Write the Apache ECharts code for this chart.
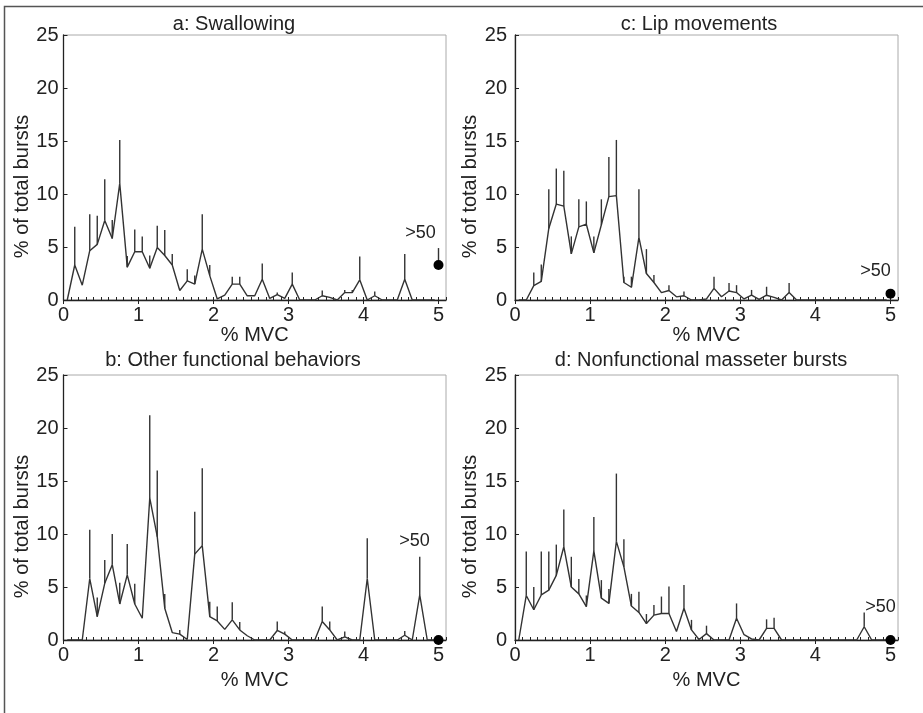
<!DOCTYPE html>
<html><head><meta charset="utf-8">
<script src="https://cdn.jsdelivr.net/npm/echarts@6/dist/echarts.min.js"></script>
<style>html,body{margin:0;padding:0;background:#fff}#c{width:923px;height:713px}</style>
</head><body><div id="c"></div>
<script>
// Bin centres (% MVC), 0.1 % wide bins
const binCenters = [0.05,0.15,0.25,0.35,0.45,0.55,0.65,0.75,0.85,0.95,
  1.05,1.15,1.25,1.35,1.45,1.55,1.65,1.75,1.85,1.95,
  2.05,2.15,2.25,2.35,2.45,2.55,2.65,2.75,2.85,2.95,
  3.05,3.15,3.25,3.35,3.45,3.55,3.65,3.75,3.85,3.95,
  4.05,4.15,4.25,4.35,4.45,4.55,4.65,4.75,4.85,4.95];
const xTickLabels = ['0','1','2','3','4','5'];
const yTickLabels = ['0','5','10','15','20','25'];
const panelTitles = ['a: Swallowing','c: Lip movements','b: Other functional behaviors','d: Nonfunctional masseter bursts'];
const xAxisName = '% MVC';
const yAxisName = '% of total bursts';
const overflowLabel = '>50';
const overflowX = 5;

// a: Swallowing
const swallowMean = [0,3.3,1.4,4.65,5.25,7.5,5.8,11.0,3.1,4.55,
  4.55,3.0,4.95,4.2,3.3,0.9,1.8,1.5,4.8,2.3,
  0.1,0.45,1.5,1.5,0.4,0.4,1.95,0.15,0.5,0.15,
  1.5,0,0,0,0.4,0.25,0,0.7,0.7,1.9,
  0,0.4,0,0,0,1.95,0,0,0,0];
const swallowUpper = [null,6.9,null,8.1,7.95,11.4,7.55,15.1,4.15,6.65,
  6.0,4.2,7.0,6.6,4.35,null,2.9,2.3,8.1,3.3,
  null,null,2.2,2.2,null,null,3.45,null,0.7,null,
  2.6,null,null,null,0.9,null,null,0.95,0.95,4.1,
  null,0.8,null,null,null,4.35,null,null,null,null];
// c: Lip movements
const lipMean = [0,0,1.35,1.75,6.75,9.05,8.85,4.35,6.9,7.15,
  4.45,7.1,9.75,9.85,1.65,1.2,5.9,2.5,1.65,0.7,
  0.9,0.3,0.4,0,0,0.1,1.1,0.3,0.85,0.7,
  0.1,0.45,0.05,0.45,0.25,0,0.7,0,0,0,
  0,0,0,0,0,0,0,0,0,0];
const lipUpper = [null,null,2.6,3.35,10.45,12.4,12.2,6.0,9.5,9.3,
  6.0,9.5,13.5,15.1,2.2,2.2,10.45,4.8,2.35,null,
  1.4,null,0.8,null,null,null,2.2,null,1.6,1.4,
  null,0.95,null,1.25,null,null,1.6,null,null,null,
  null,null,null,null,null,null,null,null,null,null];
// b: Other functional behaviors
const otherMean = [0,0,0,5.8,2.2,5.35,7.1,3.4,6.15,3.4,
  2.05,13.4,9.75,3.0,0.7,0.55,0.05,8.1,8.9,2.2,
  1.8,1.0,1.9,0.95,0.4,0,0,0,0.9,0.55,
  0,0,0,0,1.75,0.95,0,0.3,0,0,
  5.8,0,0,0,0,0.45,0,4.25,0,0];
const otherUpper = [null,null,null,10.4,4.0,7.55,10.0,5.4,9.05,5.3,
  null,21.2,16.0,4.35,null,0.95,null,12.1,16.2,3.6,
  3.15,null,3.55,1.7,null,null,null,null,1.75,0.8,
  null,null,null,null,3.15,1.75,null,0.8,null,null,
  9.6,null,null,null,null,0.85,null,7.85,null,null];
// d: Nonfunctional masseter bursts
const nonfuncMean = [0,4.2,2.85,4.25,4.7,6.1,8.8,5.0,4.35,3.15,
  8.4,3.95,3.45,9.3,6.9,3.2,2.6,1.55,2.35,2.5,
  2.5,0.8,3.0,0.95,0.05,0.6,0,0,0,2.05,
  0.5,0.1,0,1.1,1.1,0,0,0,0,0,
  0,0,0,0,0,0,1.25,0,0,0];
const nonfuncUpper = [null,8.35,5.0,8.35,8.35,9.0,12.3,7.85,5.75,4.2,
  11.6,5.65,4.8,15.7,9.5,4.35,4.55,2.45,3.3,4.1,
  5.05,null,5.2,1.9,null,1.35,null,null,null,3.45,
  null,null,null,1.95,2.1,null,null,null,null,null,
  null,null,null,null,null,null,2.6,null,null,null];
// ">50" bin (panels a, c, b, d)
const overflowMean = [3.3, 0.6, 0, 0];
const overflowUpper = [4.9, null, null, null];

const means = [swallowMean, lipMean, otherMean, nonfuncMean];
const uppers = [swallowUpper, lipUpper, otherUpper, nonfuncUpper];

// layout (styles / positions only)
const grids = [
  {left: 63.5, top: 35, width: 382.5, height: 265},
  {left: 515, top: 35, width: 383, height: 265},
  {left: 63.5, top: 375, width: 382.5, height: 265},
  {left: 515, top: 375, width: 383, height: 265}
];
const titlePos = [[234, 14], [699, 14], [233, 350], [701, 350]];
const yLabelMargin = [5, 8, 5, 8];
const yNameGap = [25, 28, 25, 28];
const xNameGap = [23, 23, 30, 30];
const overLabelOffset = [[-18, -32], [-15, -23], [-24, -99], [-10, -33]];

const FONT = '"Liberation Sans", Arial, sans-serif';
const INK = '#333';

const option = {
  animation: false,
  backgroundColor: '#fff',
  graphic: [{
    type: 'rect', silent: true, z: -10,
    shape: {x: 4.5, y: 6.5, width: 940, height: 740},
    style: {fill: 'none', stroke: '#555', lineWidth: 1.5}
  }],
  title: panelTitles.map((t, i) => ({
    text: t, left: titlePos[i][0], top: titlePos[i][1], textAlign: 'center', padding: 0,
    textStyle: {fontFamily: FONT, fontSize: 20, fontWeight: 'normal', color: '#222'}
  })),
  grid: grids.map(g => Object.assign({show: true, borderColor: '#aaa', borderWidth: 1, backgroundColor: 'transparent'}, g)),
  xAxis: [],
  yAxis: [],
  series: []
};

for (let p = 0; p < 4; p++) {
  option.xAxis.push({
    type: 'value', gridIndex: p, min: 0, max: 5.1, interval: 1,
    name: xAxisName, nameLocation: 'middle', nameGap: xNameGap[p],
    nameTextStyle: {fontFamily: FONT, fontSize: 20, color: '#222'},
    axisLine: {show: true, onZero: false, lineStyle: {color: '#222', width: 1.3}},
    axisTick: {show: true, inside: false, length: 4, lineStyle: {color: '#222', width: 1}},
    axisLabel: {
      fontFamily: FONT, fontSize: 20, color: '#222', margin: 5, showMaxLabel: false,
      formatter: v => { const i = xTickLabels.indexOf(String(v)); return i >= 0 ? xTickLabels[i] : ''; }
    },
    splitLine: {show: false}
  });
  option.xAxis.push({
    type: 'value', gridIndex: p, min: 0, max: 5.1, interval: 0.1, position: 'bottom',
    axisLine: {show: false},
    axisTick: {show: true, inside: true, length: 3, lineStyle: {color: '#222', width: 1}},
    axisLabel: {show: false}, splitLine: {show: false}
  });
  option.yAxis.push({
    type: 'value', gridIndex: p, min: 0, max: 25, interval: 5,
    name: yAxisName, nameLocation: 'middle', nameGap: yNameGap[p],
    nameTextStyle: {fontFamily: FONT, fontSize: 20, color: '#222', padding: [0, 38, 0, 0]},
    axisLine: {show: true, lineStyle: {color: '#222', width: 1.3}},
    axisTick: {show: true, inside: true, length: 4, lineStyle: {color: '#222', width: 1}},
    axisLabel: {
      fontFamily: FONT, fontSize: 20, color: '#222', margin: yLabelMargin[p], padding: [10, 0, 0, 0],
      formatter: v => { const i = yTickLabels.indexOf(String(v)); return i >= 0 ? yTickLabels[i] : ''; }
    },
    splitLine: {show: false}
  });

  const mean = means[p], up = uppers[p];
  option.series.push({
    type: 'line', xAxisIndex: 2 * p, yAxisIndex: p, z: 3,
    data: binCenters.map((x, i) => [x, mean[i]]),
    symbol: 'none', lineStyle: {color: INK, width: 1.4}
  });
  const errData = [];
  binCenters.forEach((x, i) => { if (up[i] != null) errData.push([x, mean[i], up[i]]); });
  if (overflowUpper[p] != null) errData.push([overflowX, overflowMean[p], overflowUpper[p]]);
  option.series.push({
    type: 'custom', xAxisIndex: 2 * p, yAxisIndex: p, z: 4,
    data: errData, encode: {x: 0, y: [1, 2]},
    renderItem: (params, api) => {
      const a = api.coord([api.value(0), api.value(1)]);
      const b = api.coord([api.value(0), api.value(2)]);
      return {type: 'line', shape: {x1: a[0], y1: a[1], x2: b[0], y2: b[1]},
              style: {stroke: INK, lineWidth: 1.4}};
    }
  });
  option.series.push({
    type: 'scatter', xAxisIndex: 2 * p, yAxisIndex: p, z: 5,
    data: [[overflowX, overflowMean[p]]], symbolSize: 10,
    itemStyle: {color: '#000', opacity: 1},
    emphasis: {disabled: true},
    label: {show: true, formatter: overflowLabel, position: 'inside',
            offset: overLabelOffset[p], fontFamily: FONT, fontSize: 18, color: '#222',
            textBorderWidth: 0, textBorderColor: 'transparent', opacity: 1}
  });
}

const chart = echarts.init(document.getElementById('c'), null, {renderer: 'canvas'});
chart.setOption(option);
</script></body></html>
